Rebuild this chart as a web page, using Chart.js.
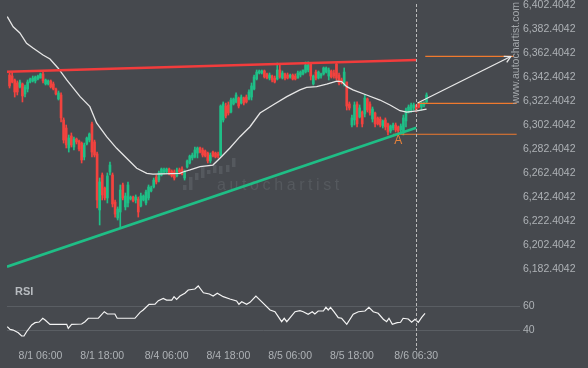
<!DOCTYPE html>
<html>
<head>
<meta charset="utf-8">
<script src="https://cdn.jsdelivr.net/npm/chart.js@4.4.0/dist/chart.umd.min.js"></script>
<style>
  html, body { margin: 0; padding: 0; background: #46494e; overflow: hidden; }
  #wrap { position: relative; width: 588px; height: 368px; }
  #main { position: absolute; left: 0; top: -10px; }
  #rsi { position: absolute; left: 0; top: 273px; }
</style>
</head>
<body>
<div id="wrap">
  <canvas id="main" width="588" height="303"></canvas>
  <canvas id="rsi" width="588" height="95"></canvas>
</div>
<script>
// 1. Candle data (30 min bars, index = bar number)
const candleOpen = [
  6344.1,6343.3,6340.0,6337.5,6334.2,6336.7,6328.3,6332.5,6338.3,6339.2,
  6339.2,6340.8,6341.6,6345.0,6336.7,6336.7,6339.2,6336.7,6332.5,6324.2,
  6327.5,6306.7,6300.0,6283.4,6293.4,6284.2,6290.9,6289.2,6287.5,6275.9,
  6286.7,6290.0,6303.4,6288.4,6278.4,6231.8,6260.9,6250.1,6241.8,6263.4,
  6260.9,6238.4,6225.1,6230.1,6252.6,6234.3,6237.6,6240.9,6242.6,6240.1,
  6240.9,6235.1,6240.1,6237.6,6241.8,6247.6,6250.9,6259.2,6256.7,6260.9,
  6263.4,6263.4,6265.9,6264.2,6263.4,6260.1,6265.1,6265.9,6258.4,6267.6,
  6270.9,6275.1,6275.9,6279.2,6283.4,6281.7,6280.9,6279.2,6272.6,6280.0,
  6279.2,6278.4,6277.5,6306.7,6318.3,6319.2,6313.3,6320.0,6321.7,6325.0,
  6320.8,6325.0,6325.8,6324.2,6325.8,6332.5,6340.8,6345.8,6345.8,6347.5,
  6345.0,6341.6,6343.3,6341.6,6340.8,6348.3,6341.6,6345.0,6344.1,6342.5,
  6344.1,6343.3,6341.6,6344.1,6345.0,6346.6,6348.3,6353.3,6336.7,6346.6,
  6341.6,6343.3,6345.0,6346.6,6343.3,6347.5,6345.8,6353.3,6344.1,6340.0,
  6336.7,6338.3,6320.0,6302.5,6306.7,6320.0,6309.2,6313.3,6311.7,6324.2,
  6320.0,6307.5,6312.5,6308.4,6307.5,6301.7,6306.7,6303.4,6297.5,6300.0,
  6302.5,6300.9,6298.4,6297.5,6305.9,6313.3,6315.0,6316.7,6319.2,6320.0,
  6317.5,6319.2,6321.7
];
const candleHigh = [
  6345.8,6346.6,6340.8,6339.2,6340.0,6337.5,6335.8,6340.0,6341.6,6343.3,
  6343.3,6344.1,6345.8,6346.6,6340.8,6340.0,6340.0,6338.3,6333.3,6330.8,
  6329.2,6308.4,6302.5,6294.2,6295.9,6292.5,6291.7,6290.0,6288.4,6287.5,
  6292.5,6295.9,6305.0,6290.0,6280.0,6258.4,6262.6,6250.9,6262.6,6271.7,
  6262.6,6240.1,6234.3,6252.6,6254.2,6245.9,6255.1,6243.4,6243.4,6244.3,
  6242.6,6245.9,6244.3,6248.4,6252.6,6251.7,6258.4,6260.9,6264.2,6266.7,
  6266.7,6266.7,6266.7,6265.1,6265.1,6266.7,6266.7,6267.6,6265.1,6273.4,
  6277.5,6279.2,6284.2,6284.2,6284.2,6283.4,6281.7,6280.0,6279.2,6280.9,
  6280.0,6280.0,6319.2,6321.7,6320.8,6321.7,6325.0,6325.0,6329.2,6325.8,
  6327.5,6325.8,6327.5,6331.7,6337.5,6344.1,6348.3,6348.3,6348.3,6348.3,
  6345.8,6345.8,6344.1,6343.3,6354.1,6352.5,6347.5,6345.8,6345.8,6345.0,
  6345.0,6345.0,6347.5,6347.5,6348.3,6355.0,6355.0,6354.1,6344.1,6348.3,
  6347.5,6345.8,6350.8,6350.8,6350.0,6348.3,6348.3,6355.0,6345.8,6341.6,
  6350.0,6338.3,6321.7,6310.8,6321.7,6321.7,6319.2,6314.2,6327.5,6325.0,
  6321.7,6317.5,6313.3,6309.2,6309.2,6306.7,6308.4,6304.2,6302.5,6304.2,
  6304.2,6301.7,6303.4,6310.8,6316.7,6319.2,6320.8,6320.8,6319.2,6320.8,
  6321.7,6321.7,6329.2
];
const candleLow = [
  6333.3,6337.5,6325.8,6327.5,6333.3,6321.7,6325.8,6330.0,6337.5,6338.3,
  6337.5,6340.0,6341.6,6337.5,6335.8,6335.8,6333.3,6331.7,6327.5,6323.3,
  6305.0,6287.5,6283.4,6280.0,6284.2,6281.7,6286.7,6280.9,6270.9,6273.4,
  6285.9,6288.4,6275.9,6275.9,6233.4,6219.3,6240.1,6240.1,6237.6,6260.9,
  6234.3,6225.9,6223.4,6216.8,6240.1,6231.8,6234.3,6240.1,6238.4,6237.6,
  6225.9,6234.3,6239.3,6235.9,6240.1,6246.8,6250.1,6253.4,6255.1,6260.1,
  6261.7,6262.6,6260.9,6259.2,6256.7,6259.2,6261.7,6260.9,6256.7,6266.7,
  6270.1,6273.4,6275.1,6275.1,6279.2,6275.9,6275.9,6270.9,6270.9,6275.9,
  6275.1,6275.1,6276.7,6305.0,6308.4,6310.8,6312.5,6319.2,6320.8,6316.7,
  6320.0,6319.2,6320.8,6323.3,6323.3,6331.7,6340.0,6345.0,6345.0,6341.6,
  6340.8,6340.0,6338.3,6337.5,6340.0,6341.6,6340.8,6340.0,6340.8,6341.6,
  6340.0,6340.0,6341.6,6342.5,6344.1,6345.8,6346.6,6340.0,6335.8,6340.0,
  6340.8,6341.6,6344.1,6345.8,6340.0,6341.6,6341.6,6340.0,6335.8,6336.7,
  6335.0,6315.0,6315.0,6300.9,6302.5,6300.9,6308.4,6300.9,6309.2,6313.3,
  6310.8,6305.0,6300.9,6302.5,6300.9,6300.0,6298.4,6294.2,6295.9,6298.4,
  6296.7,6295.9,6295.9,6294.2,6300.9,6312.5,6313.3,6315.0,6313.3,6316.7,
  6315.0,6317.5,6320.8
];
const candleClose = [
  6335.0,6338.3,6330.0,6330.0,6338.3,6326.7,6334.2,6338.3,6340.8,6341.6,
  6342.5,6343.3,6345.0,6339.2,6340.0,6339.2,6334.2,6332.5,6328.3,6329.2,
  6308.4,6290.0,6285.9,6291.7,6285.9,6290.9,6288.4,6282.5,6273.4,6285.9,
  6291.7,6295.0,6280.0,6277.5,6240.1,6255.1,6244.3,6241.8,6260.1,6269.2,
  6236.8,6228.4,6232.6,6248.4,6241.8,6243.4,6252.6,6242.6,6239.3,6242.6,
  6230.1,6243.4,6243.4,6246.8,6250.9,6250.1,6256.7,6255.1,6262.6,6265.9,
  6265.1,6265.9,6261.7,6260.1,6258.4,6265.1,6263.4,6261.7,6264.2,6272.6,
  6276.7,6277.5,6281.7,6283.4,6280.0,6277.5,6276.7,6272.6,6277.5,6276.7,
  6275.9,6276.7,6318.3,6320.0,6310.0,6312.5,6323.3,6324.2,6327.5,6318.3,
  6325.8,6320.8,6321.7,6330.0,6335.0,6342.5,6346.6,6347.5,6347.5,6342.5,
  6341.6,6344.1,6340.0,6338.3,6348.3,6342.5,6345.8,6341.6,6341.6,6344.1,
  6340.8,6340.8,6345.8,6346.6,6348.3,6352.5,6352.5,6343.3,6343.3,6341.6,
  6346.6,6345.0,6350.0,6350.0,6348.3,6342.5,6343.3,6341.6,6337.5,6338.3,
  6346.6,6318.3,6316.7,6308.4,6319.2,6303.4,6316.7,6303.4,6325.0,6315.0,
  6312.5,6315.8,6303.4,6303.4,6302.5,6305.9,6300.9,6296.7,6301.7,6302.5,
  6298.4,6297.5,6301.7,6308.4,6315.0,6317.5,6319.2,6319.2,6315.0,6317.5,
  6320.8,6320.8,6327.5
];

// 2. Moving average (vertices)
const maIdx = [-0.9,1.4,4.0,6.6,9.1,13.0,15.7,18.8,22.2,27.4,31.2,33.8,37.7,41.6,45.5,49.4,53.3,55.7,66.2,67.4,
  70.1,74.0,79.0,81.7,85.6,89.5,93.4,97.3,102.3,107.7,112.8,115.4,119.3,123.2,127.1,129.0,131.0,133.4,138.7,143.9,
  147.8,151.7,154.3,158.2,162.0];
const maVal = [6392.7,6384.3,6379.1,6370.5,6366.6,6360.8,6357.5,6350.0,6340.0,6326.1,6317.8,6304.2,6292.8,6283.1,6274.8,6266.5,6262.3,6261.7,6262.3,6263.4,
  6265.1,6267.8,6269.2,6274.8,6283.4,6292.8,6301.1,6312.5,6319.2,6326.1,6331.7,6333.9,6334.4,6336.6,6339.1,6338.7,6334.4,6331.7,6327.5,6323.3,
  6319.2,6314.4,6313.3,6314.2,6315.8];

// 3. RSI
const rsiIdx = [-0.9,0.2,1.4,3.4,4.7,5.6,6.6,8.6,9.9,11.5,12.9,13.8,15.7,22.2,22.8,24.1,28.0,29.3,30.6,34.5,
  36.8,38.0,40.9,41.8,48.7,50.7,51.9,54.2,56.5,57.8,59.7,61.0,63.0,63.9,64.9,66.2,68.1,69.4,72.0,73.3,
  75.3,77.6,79.1,80.7,83.0,85.6,88.2,89.1,90.2,92.1,93.4,95.7,98.6,101.2,103.1,105.7,106.7,107.7,110.9,112.8,
  114.1,116.0,117.6,118.6,119.9,121.9,122.9,123.8,124.7,126.0,127.7,129.0,131.0,133.5,135.5,138.1,139.6,141.3,143.2,145.2,
  146.5,147.4,148.7,150.6,151.9,152.9,154.9,156.2,157.5,158.8,160.1,161.4];
const rsiVal = [43.0,40.8,40.2,38.0,35.3,35.3,38.8,44.4,46.3,46.8,49.9,48.5,44.9,44.9,41.6,44.9,45.2,47.1,49.9,49.9,
  55.3,53.4,53.4,49.9,49.9,54.8,56.7,61.4,61.6,64.4,66.3,64.9,64.9,67.7,65.5,68.2,70.5,73.2,74.0,76.5,
  70.9,69.9,68.2,70.5,67.7,65.8,64.1,61.4,63.5,61.4,63.0,68.2,62.2,56.7,55.3,47.1,49.9,47.1,55.3,56.1,
  55.3,53.2,55.3,53.4,55.9,55.9,58.9,56.7,58.9,55.3,50.4,49.9,44.9,53.2,55.3,55.9,58.9,55.3,54.0,49.1,
  47.1,49.9,44.9,46.3,46.6,49.9,49.3,46.6,49.1,46.6,50.7,54.0];

// 4. Pattern lines and levels
const resistX = [-1, 158];
const resistY = [6346.8, 6356.6];
const supportX = [-1, 158];
const supportY = [6184.6, 6300.3];
const levelY = [6359.7, 6320.6, 6294.8];
const levelFrom = [161.5, 158.5, 149];
const levelTo = [196, 197, 197];
const arrowX = [158.5, 194.7];
const arrowY = [6320.8, 6359.5];
const pointA = { x: 151, y: 6289.2 };

// 5. Axis ticks
const timeTickIdx = [12, 36, 61, 85, 109, 133, 158];
const timeTickText = ['8/1 06:00', '8/1 18:00', '8/4 06:00', '8/4 18:00', '8/5 06:00', '8/5 18:00', '8/6 06:30'];
const priceTicks = [6182.4042, 6202.4042, 6222.4042, 6242.4042, 6262.4042, 6282.4042,
  6302.4042, 6322.4042, 6342.4042, 6362.4042, 6382.4042, 6402.4042];
const rsiTicks = [40, 60];
const markIdx = 158;

const X_MIN = -1, X_MAX = 198.3;
const FONT = "'Liberation Sans', Arial, sans-serif";
const UP = '#1fbf87', DOWN = '#f2433f';

Chart.defaults.font.family = FONT;
Chart.defaults.font.size = 10.5;
Chart.defaults.color = '#aeb2b6';
Chart.defaults.animation = false;

const pts = (xs, ys) => xs.map((x, i) => ({ x: x, y: ys[i] }));
const candleColors = candleOpen.map((o, i) => candleClose[i] >= o ? UP : DOWN);

function dashedMarker(chart, fromY) {
  const { ctx, chartArea: a, scales: { x } } = chart;
  const mx = Math.round(x.getPixelForValue(markIdx)) + 0.5;
  ctx.save();
  ctx.strokeStyle = '#b9b9b9';
  ctx.lineWidth = 1;
  ctx.setLineDash([3, 2]);
  ctx.beginPath();
  ctx.moveTo(mx, fromY);
  ctx.lineTo(mx, a.bottom);
  ctx.stroke();
  ctx.restore();
}

const mainOverlay = {
  id: 'mainOverlay',
  beforeDatasetsDraw(chart) {
    const { ctx, chartArea: a } = chart;
    const oy = a.top;
    ctx.save();
    ctx.fillStyle = '#55595e';
    // faint logo bars of the watermark
    [[183,185,190],[189,177,190],[195,173,180],[201,167,178],[207,170,174],
     [213,165,173],[219,166,174],[226,165,172],[232,158,167]].forEach(b => {
      ctx.fillRect(b[0], oy + b[1], 3.5, b[2] - b[1]);
    });
    ctx.font = '16px ' + FONT;
    ctx.letterSpacing = '3.6px';
    ctx.textBaseline = 'alphabetic';
    ctx.fillText('autochartist', 217, oy + 189.5);
    ctx.restore();
  },
  afterDatasetsDraw(chart) {
    const { ctx, chartArea: a, scales: { x, y } } = chart;
    dashedMarker(chart, a.top + 4);

    // arrow head
    const meta = chart.getDatasetMeta(3);
    const p0 = meta.data[0], p1 = meta.data[1];
    const ang = Math.atan2(p1.y - p0.y, p1.x - p0.x);
    ctx.save();
    ctx.strokeStyle = '#e8e8e8';
    ctx.lineWidth = 1.3;
    ctx.beginPath();
    ctx.moveTo(p1.x - 7 * Math.cos(ang - 0.5), p1.y - 7 * Math.sin(ang - 0.5));
    ctx.lineTo(p1.x, p1.y);
    ctx.lineTo(p1.x - 7 * Math.cos(ang + 0.5), p1.y - 7 * Math.sin(ang + 0.5));
    ctx.stroke();

    // A label
    ctx.fillStyle = '#e8823a';
    ctx.font = '12px ' + FONT;
    ctx.textAlign = 'center';
    ctx.textBaseline = 'middle';
    ctx.fillText('A', x.getPixelForValue(pointA.x), y.getPixelForValue(pointA.y));

    // vertical site text
    ctx.translate(a.right - 4, a.top + 2);
    ctx.rotate(-Math.PI / 2);
    ctx.textAlign = 'right';
    ctx.fillStyle = '#a3a7ab';
    ctx.font = '10.5px ' + FONT;
    ctx.fillText('www.autochartist.com', 0, 0);
    ctx.restore();
  }
};

const line = (data, color, width) => ({
  type: 'line', data: data, borderColor: color, borderWidth: width,
  pointRadius: 0, tension: 0, fill: false
});

const mainDatasets = [
  line(pts(resistX, resistY), '#f23c3c', 2.6),
  line(pts(supportX, supportY), '#1fbe86', 2.6),
  line(pts(maIdx, maVal), '#e6e6e6', 1.3),
  line(pts(arrowX, arrowY), '#e8e8e8', 1.3)
];
levelY.forEach((v, k) => {
  mainDatasets.push(line([{ x: levelFrom[k], y: v }, { x: levelTo[k], y: v }], '#f07a2e', 1.2));
});
mainDatasets.push({
  type: 'bar',
  data: candleLow.map((l, i) => ({ x: i, y: [l, candleHigh[i]] })),
  backgroundColor: candleColors, barThickness: 1, grouped: false, borderWidth: 0
});
mainDatasets.push({
  type: 'bar',
  data: candleOpen.map((o, i) => ({ x: i, y: [o, candleClose[i]] })),
  backgroundColor: candleColors, barThickness: 2, grouped: false, borderWidth: 0
});

new Chart(document.getElementById('main'), {
  type: 'bar',
  data: { datasets: mainDatasets },
  options: {
    responsive: false,
    devicePixelRatio: 1,
    layout: { padding: { top: 10, bottom: 10, left: 7, right: 0 } },
    plugins: { legend: { display: false }, tooltip: { enabled: false } },
    scales: {
      x: { type: 'linear', min: X_MIN, max: X_MAX, offset: false, display: false },
      y: {
        type: 'linear', position: 'right', min: 6171.0, max: 6406.566,
        grid: { display: false, drawTicks: false }, border: { display: false },
        afterBuildTicks: s => { s.ticks = priceTicks.map(v => ({ value: v })); },
        afterFit: s => { s.width = 68; },
        ticks: {
          padding: 3,
          callback: v => v.toLocaleString('en-US', { minimumFractionDigits: 4, maximumFractionDigits: 4 })
        }
      }
    }
  },
  plugins: [mainOverlay]
});

const rsiOverlay = {
  id: 'rsiOverlay',
  afterDatasetsDraw(chart) {
    const { ctx, chartArea: a } = chart;
    dashedMarker(chart, a.top);
    ctx.save();
    ctx.fillStyle = '#b8bcc0';
    ctx.font = 'bold 11px ' + FONT;
    ctx.textBaseline = 'middle';
    ctx.fillText('RSI', 15, a.top + 8.5);
    ctx.restore();
  }
};

new Chart(document.getElementById('rsi'), {
  type: 'line',
  data: { datasets: [line(pts(rsiIdx, rsiVal), '#f4f4f4', 1.2)] },
  options: {
    responsive: false,
    devicePixelRatio: 1,
    layout: { padding: { top: 10, bottom: 0, left: 7, right: 0 } },
    plugins: { legend: { display: false }, tooltip: { enabled: false } },
    scales: {
      x: {
        type: 'linear', min: X_MIN, max: X_MAX, offset: false,
        grid: { display: false, drawTicks: false }, border: { display: false },
        afterBuildTicks: s => { s.ticks = timeTickIdx.map(v => ({ value: v })); },
        afterFit: s => { s.height = 18; },
        ticks: { padding: 0, autoSkip: false, maxRotation: 0, callback: (v, i) => timeTickText[i] }
      },
      y: {
        type: 'linear', position: 'right', min: 23.79, max: 78.93,
        grid: { color: '#5a5e63', drawTicks: false }, border: { display: false },
        afterBuildTicks: s => { s.ticks = rsiTicks.map(v => ({ value: v })); },
        afterFit: s => { s.width = 68; },
        ticks: { padding: 3 }
      }
    }
  },
  plugins: [rsiOverlay]
});
</script>
</body>
</html>
